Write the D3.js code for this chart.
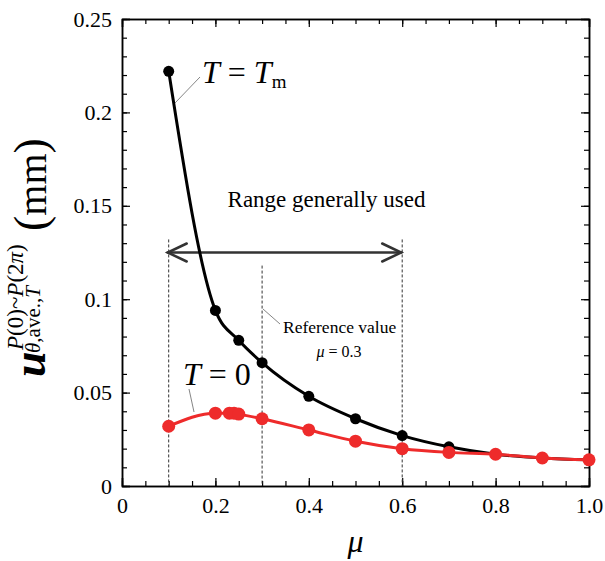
<!DOCTYPE html>
<html>
<head>
<meta charset="utf-8">
<script src="https://cdn.jsdelivr.net/npm/d3@7"></script>
<style>
  body { margin: 0; background: #fff; }
  text { font-family: "Liberation Serif", "Times New Roman", serif; }
</style>
</head>
<body>
<div id="chart"></div>
<script>
// data
const muTm = [0.1, 0.2, 0.25, 0.3, 0.4, 0.5, 0.6, 0.7, 0.8, 0.9, 1.0];
const uTm = [0.222, 0.094, 0.078, 0.066, 0.048, 0.036, 0.027, 0.021, 0.017, 0.015, 0.014];
const mu0 = [0.1, 0.2, 0.23, 0.24, 0.25, 0.3, 0.4, 0.5, 0.6, 0.7, 0.8, 0.9, 1.0];
const u0 = [0.032, 0.039, 0.039, 0.039, 0.0385, 0.036, 0.030, 0.024, 0.020, 0.018, 0.017, 0.015, 0.014];
const xTicks = [0, 0.2, 0.4, 0.6, 0.8, 1.0];
const xTickLabels = ["0", "0.2", "0.4", "0.6", "0.8", "1.0"];
const yTicks = [0, 0.05, 0.1, 0.15, 0.2, 0.25];
const yTickLabels = ["0", "0.05", "0.1", "0.15", "0.2", "0.25"];
const rangeUsed = [0.1, 0.6];
const refMu = 0.3;

const W = 605, H = 561;
const margin = { top: 19, right: 16, bottom: 75, left: 122 };
const width = W - margin.left - margin.right;
const height = H - margin.top - margin.bottom;
const serif = "Liberation Serif";

const svg = d3.select("#chart").append("svg")
    .attr("width", W)
    .attr("height", H)
    .attr("font-family", serif);

const g = svg.append("g")
    .attr("transform", `translate(${margin.left},${margin.top})`);

const x = d3.scaleLinear().domain([0, 1]).range([0, width]);
const y = d3.scaleLinear().domain([0, 0.25]).range([height, 0]);

// minor ticks
const xMinor = d3.range(0, 1.0001, 0.05);
const yMinor = d3.range(0, 0.2501, 0.01);

function styleAxis(sel) {
    sel.attr("font-family", null).attr("font-size", null);
    sel.selectAll("path").attr("stroke", "#000").attr("stroke-width", 1.5);
    sel.selectAll("line").attr("stroke", "#000").attr("stroke-width", 1.2);
    sel.selectAll("text")
        .attr("font-family", serif)
        .attr("font-size", 22)
        .attr("fill", "#000");
}

g.append("g").attr("transform", `translate(0,${height})`)
    .call(d3.axisBottom(x).tickValues(xMinor).tickSize(-5).tickSizeOuter(0).tickFormat(""))
    .call(styleAxis);
g.append("g")
    .call(d3.axisTop(x).tickValues(xMinor).tickSize(-5).tickSizeOuter(0).tickFormat(""))
    .call(styleAxis);
g.append("g")
    .call(d3.axisLeft(y).tickValues(yMinor).tickSize(-5).tickSizeOuter(0).tickFormat(""))
    .call(styleAxis);
g.append("g").attr("transform", `translate(${width},0)`)
    .call(d3.axisRight(y).tickValues(yMinor).tickSize(-5).tickSizeOuter(0).tickFormat(""))
    .call(styleAxis);

// major ticks + labels
g.append("g").attr("transform", `translate(0,${height})`)
    .call(d3.axisBottom(x).tickValues(xTicks).tickSize(-8).tickPadding(11)
        .tickFormat((d, i) => xTickLabels[i]))
    .call(styleAxis);
g.append("g")
    .call(d3.axisTop(x).tickValues(xTicks).tickSize(-8).tickFormat(""))
    .call(styleAxis);

g.append("g")
    .call(d3.axisLeft(y).tickValues(yTicks).tickSize(-8).tickPadding(10)
        .tickFormat((d, i) => yTickLabels[i]))
    .call(styleAxis);
g.append("g").attr("transform", `translate(${width},0)`)
    .call(d3.axisRight(y).tickValues(yTicks).tickSize(-8).tickFormat(""))
    .call(styleAxis);

// dashed guide lines
const guideColor = "#333";
rangeUsed.forEach(m => {
    g.append("line")
        .attr("x1", x(m)).attr("x2", x(m))
        .attr("y1", y(0.132)).attr("y2", y(0))
        .attr("stroke", guideColor).attr("stroke-width", 1)
        .attr("stroke-dasharray", "3,2");
});
g.append("line")
    .attr("x1", x(refMu)).attr("x2", x(refMu))
    .attr("y1", y(0.118)).attr("y2", y(0))
    .attr("stroke", guideColor).attr("stroke-width", 1)
    .attr("stroke-dasharray", "3,2");

// double arrow
const ay = y(0.125);
const arrow = g.append("g").attr("stroke", "#333").attr("stroke-width", 2.5)
    .attr("fill", "none").attr("stroke-linecap", "round");
arrow.append("line")
    .attr("x1", x(rangeUsed[0]) - 1).attr("x2", x(rangeUsed[1]) - 1)
    .attr("y1", ay).attr("y2", ay);
arrow.append("path")
    .attr("d", `M${x(rangeUsed[0]) + 18},${ay - 9}L${x(rangeUsed[0]) - 1},${ay}L${x(rangeUsed[0]) + 18},${ay + 9}`);
arrow.append("path")
    .attr("d", `M${x(rangeUsed[1]) - 20},${ay - 9}L${x(rangeUsed[1]) - 1},${ay}L${x(rangeUsed[1]) - 20},${ay + 9}`);

g.append("text")
    .attr("x", x(0.438)).attr("y", y(0.1495))
    .attr("text-anchor", "middle")
    .attr("font-size", 23)
    .text("Range generally used");

// curves
const line = d3.line().curve(d3.curveMonotoneX)
    .x(d => x(d[0])).y(d => y(d[1]));

const tmData = d3.zip(muTm, uTm);
const t0Data = d3.zip(mu0, u0);

g.append("path").datum(tmData)
    .attr("d", line).attr("fill", "none")
    .attr("stroke", "#000").attr("stroke-width", 3);
g.selectAll(".pt-tm").data(tmData).enter().append("circle")
    .attr("class", "pt-tm")
    .attr("cx", d => x(d[0])).attr("cy", d => y(d[1]))
    .attr("r", 5.5).attr("fill", "#000");

const red = "#ee2b2b";
g.append("path").datum(t0Data)
    .attr("d", line).attr("fill", "none")
    .attr("stroke", red).attr("stroke-width", 3);
g.selectAll(".pt-0").data(t0Data).enter().append("circle")
    .attr("class", "pt-0")
    .attr("cx", d => x(d[0])).attr("cy", d => y(d[1]))
    .attr("r", 6.5).attr("fill", red);

// annotations (screen coords)
const ann = svg.append("g");
ann.append("line").attr("x1", 175).attr("y1", 103).attr("x2", 200).attr("y2", 77)
    .attr("stroke", "#666").attr("stroke-width", 0.8);
const tm = ann.append("text").attr("x", 202).attr("y", 83).attr("font-size", 32);
tm.append("tspan").attr("font-style", "italic").text("T");
tm.append("tspan").text(" = ");
tm.append("tspan").attr("font-style", "italic").text("T");
tm.append("tspan").attr("font-size", 19).attr("dy", 5).text("m");

ann.append("line").attr("x1", 189).attr("y1", 389).attr("x2", 194).attr("y2", 412)
    .attr("stroke", "#666").attr("stroke-width", 0.8);
const t0 = ann.append("text").attr("x", 183).attr("y", 385).attr("font-size", 32);
t0.append("tspan").attr("font-style", "italic").text("T");
t0.append("tspan").text(" = 0");

ann.append("line").attr("x1", 263).attr("y1", 309).attr("x2", 280).attr("y2", 324)
    .attr("stroke", "#666").attr("stroke-width", 0.8);
ann.append("text").attr("x", 283).attr("y", 333).attr("font-size", 17.5)
    .text("Reference value");
const rv = ann.append("text").attr("x", 339).attr("y", 357).attr("font-size", 16)
    .attr("text-anchor", "middle");
rv.append("tspan").attr("font-style", "italic").text("μ");
rv.append("tspan").text(" = 0.3");

// axis titles
svg.append("text")
    .attr("x", margin.left + width / 2).attr("y", 552)
    .attr("text-anchor", "middle")
    .attr("font-size", 32).attr("font-style", "italic")
    .text("μ");

const yl = svg.append("g").attr("transform", "rotate(-90)");
yl.append("text").attr("x", -377).attr("y", 45)
    .attr("font-size", 46).attr("font-weight", "bold").attr("font-style", "italic")
    .text("u");
const sup = yl.append("text").attr("x", -350).attr("y", 23).attr("font-size", 23);
sup.append("tspan").attr("font-style", "italic").text("P");
sup.append("tspan").text("(0)~");
sup.append("tspan").attr("font-style", "italic").text("P");
sup.append("tspan").text("(2");
sup.append("tspan").attr("font-style", "italic").text("π");
sup.append("tspan").text(")");
const sub = yl.append("text").attr("x", -353).attr("y", 40).attr("font-size", 21);
sub.append("tspan").attr("font-style", "italic").text("θ");
sub.append("tspan").text(",ave.,");
sub.append("tspan").attr("font-style", "italic").text("T");
const mm = yl.append("text").attr("x", -231).attr("y", 46).attr("font-size", 40);
mm.append("tspan").attr("font-size", 46).text("(");
mm.append("tspan").text("mm");
mm.append("tspan").attr("font-size", 46).text(")");
</script>
</body>
</html>
